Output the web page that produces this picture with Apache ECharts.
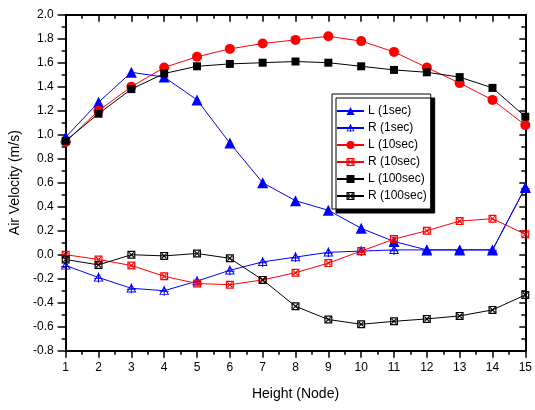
<!DOCTYPE html>
<html>
<head>
<meta charset="utf-8">
<script src="https://cdn.jsdelivr.net/npm/echarts@6/dist/echarts.min.js"></script>
<style>
html,body{margin:0;padding:0;background:#fff;}
#chart{width:535px;height:410px;}
</style>
</head>
<body>
<div id="chart"></div>
<script>
const nodes = [1,2,3,4,5,6,7,8,9,10,11,12,13,14,15];
const seriesNames = ['L (1sec)','R (1sec)','L (10sec)','R (10sec)','L (100sec)','R (100sec)'];
const L1   = [0.98,1.27,1.52,1.48,1.29,0.93,0.60,0.45,0.37,0.22,0.11,0.04,0.04,0.04,0.56];
const R1   = [-0.09,-0.19,-0.28,-0.30,-0.22,-0.13,-0.06,-0.02,0.02,0.03,0.04,0.04,0.04,0.04,0.56];
const L10  = [0.94,1.20,1.40,1.56,1.65,1.715,1.76,1.79,1.82,1.78,1.69,1.56,1.43,1.29,1.08];
const R10  = [0.00,-0.04,-0.09,-0.18,-0.24,-0.25,-0.21,-0.15,-0.07,0.03,0.13,0.20,0.28,0.30,0.17];
const L100 = [0.95,1.175,1.38,1.51,1.57,1.59,1.60,1.61,1.60,1.57,1.54,1.52,1.48,1.39,1.15];
const R100 = [-0.04,-0.085,0.00,-0.01,0.01,-0.03,-0.21,-0.43,-0.54,-0.58,-0.555,-0.535,-0.51,-0.46,-0.335];
const yTicks = { min: -0.8, max: 2.0, interval: 0.2 };
const xTicks = { min: 1, max: 15, interval: 1 };

const triCross = 'path://M5 0L10 10L0 10ZM5 2.6L1.6 9L8.4 9ZM4.5 0L5.5 0L5.5 11L4.5 11ZM0.5 6L9.5 6L9.5 7L0.5 7Z';
const sqCross = 'path://M0 0L10 0L10 10L0 10ZM1.5 1.5L1.5 8.5L8.5 8.5L8.5 1.5ZM1.5 2.5L2.5 1.5L8.5 7.5L7.5 8.5ZM7.5 1.5L8.5 2.5L2.5 8.5L1.5 7.5Z';

function pairs(arr){ return nodes.map((n,i)=>[n, arr[i]]); }

const defs = [
  {data:L1,   color:'#0000ff', symbol:'triangle', size:11},
  {data:R1,   color:'#0000ff', symbol:triCross,   size:10},
  {data:L10,  color:'#ff0000', symbol:'circle',   size:10},
  {data:R10,  color:'#ff0000', symbol:sqCross,    size:8},
  {data:L100, color:'#000000', symbol:'rect',     size:8},
  {data:R100, color:'#000000', symbol:sqCross,    size:8}
];

const font = 'Liberation Sans, Arial, sans-serif';
const chart = echarts.init(document.getElementById('chart'), null, {renderer:'canvas'});
chart.setOption({
  animation:false,
  backgroundColor:'#ffffff',
  grid:{left:65.7, right:8.3, top:14.7, bottom:59.3, containLabel:false},
  legend:{
    orient:'vertical', left:332, top:94,
    data:seriesNames,
    backgroundColor:'#ffffff', borderColor:'#000', borderWidth:1,
    shadowColor:'#000', shadowOffsetX:4, shadowOffsetY:4, shadowBlur:0,
    padding:[11,4,7,4], itemGap:5, itemWidth:27, itemHeight:10,
    textStyle:{fontFamily:font, fontSize:12, color:'#000', padding:[0,0,0,-1]}
  },
  xAxis:[{
    type:'value', min:xTicks.min, max:xTicks.max, interval:xTicks.interval,
    name:'Height (Node)', nameLocation:'middle', nameGap:36,
    nameTextStyle:{fontFamily:font, fontSize:14, color:'#000'},
    axisLine:{show:true, onZero:false, lineStyle:{color:'#000', width:2}},
    axisTick:{show:true, inside:false, length:7, lineStyle:{color:'#000', width:1.5}},
    minorTick:{show:true, splitNumber:2, length:4, lineStyle:{color:'#000', width:1.5}},
    axisLabel:{fontFamily:font, fontSize:12, color:'#000', margin:11},
    splitLine:{show:false}
  },{
    type:'value', position:'top', min:xTicks.min, max:xTicks.max, interval:xTicks.interval,
    axisLine:{show:true, onZero:false, lineStyle:{color:'#000', width:2}},
    axisTick:{show:true, inside:true, length:7, lineStyle:{color:'#000', width:1.5}},
    minorTick:{show:true, splitNumber:2, length:4, lineStyle:{color:'#000', width:1.5}},
    axisLabel:{show:false}, splitLine:{show:false}
  }],
  yAxis:[{
    type:'value', min:yTicks.min, max:yTicks.max, interval:yTicks.interval,
    name:'Air Velocity (m/s)', nameLocation:'middle', nameGap:42,
    nameTextStyle:{fontFamily:font, fontSize:14, color:'#000'},
    axisLine:{show:true, onZero:false, lineStyle:{color:'#000', width:2}},
    axisTick:{show:true, inside:false, length:8, lineStyle:{color:'#000', width:1.5}},
    minorTick:{show:true, splitNumber:2, length:4, lineStyle:{color:'#000', width:1.5}},
    axisLabel:{fontFamily:font, fontSize:12, color:'#000', margin:12, formatter:v=>v.toFixed(1)},
    splitLine:{show:false}
  },{
    type:'value', position:'right', min:yTicks.min, max:yTicks.max, interval:yTicks.interval,
    axisLine:{show:true, onZero:false, lineStyle:{color:'#000', width:2}},
    axisTick:{show:true, inside:true, length:6, lineStyle:{color:'#000', width:1.5}},
    minorTick:{show:true, splitNumber:2, length:4, lineStyle:{color:'#000', width:1.5}},
    axisLabel:{show:false}, splitLine:{show:false}
  }],
  series: defs.map((d,i)=>({
    name:seriesNames[i], type:'line', data:pairs(d.data),
    symbol:d.symbol, symbolSize:d.size, showAllSymbol:true,
    itemStyle:{color:d.color, borderWidth:0},
    lineStyle:{color:d.color, width:1},
    emphasis:{disabled:true}
  }))
});
</script>
</body>
</html>
